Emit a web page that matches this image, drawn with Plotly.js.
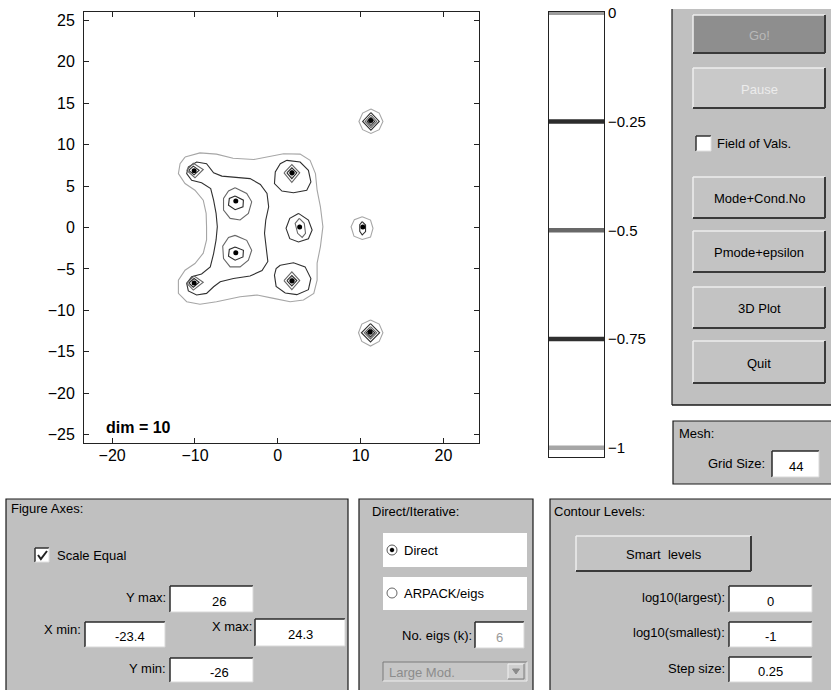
<!DOCTYPE html>
<html><head><meta charset="utf-8">
<script src="https://cdn.plot.ly/plotly-3.0.1.min.js"></script>
<style>html,body{margin:0;padding:0;background:#fff}#chart{width:831px;height:690px}</style>
</head><body><div id="chart"></div>
<script>
// ---------------- DATA ----------------
const eigRe = [-10.1, -10.1, -5.07, -5.07, 1.72, 1.72, 2.64, 10.27, 11.22, 11.15];
const eigIm = [6.85, -6.7, 3.2, -3.05, 6.62, -6.42, 0.05, 0.05, 12.9, -12.62];

const contourLevels = [0, -0.25, -0.5, -0.75, -1];
const levelLabels = ['0', '\u22120.25', '\u22120.5', '\u22120.75', '\u22121'];
const levelColors = ['#9c9c9c', '#2c2c2c', '#686868', '#303030', '#a6a6a6'];

// level -1 contours
const c_m1_blob = [[-11.2,8.5],[-9.4,9.0],[-7.4,8.85],[-5.4,8.35],[-2.9,8.2],[-1.3,8.5],[0.7,8.9],[2.7,8.85],[3.9,8.1],[4.55,6.5],[4.75,4.5],[5.15,2.5],[5.45,0.1],[5.15,-2.3],[4.75,-4.3],[4.75,-6.35],[4.35,-7.95],[3.1,-8.75],[1.5,-8.95],[-0.5,-8.55],[-2.5,-8.15],[-4.55,-8.35],[-7.4,-8.95],[-9.4,-9.25],[-11.0,-8.95],[-12.0,-7.95],[-12.0,-6.35],[-11.2,-5.15],[-10.0,-4.35],[-9.0,-3.1],[-8.6,-1.5],[-8.6,0.1],[-8.65,1.7],[-9.0,3.3],[-10.0,4.5],[-11.2,5.3],[-12.0,6.5],[-11.8,7.7]];
const c_m1_real = [[10.2,1.3],[11.2,0.9],[11.5,-0.1],[11.2,-1.15],[10.2,-1.45],[9.2,-1.05],[8.85,0.1],[9.25,0.95]];
const c_m1_top = [[11.25,14.3],[12.25,13.8],[12.7,12.8],[12.25,11.8],[11.25,11.35],[10.25,11.8],[9.8,12.8],[10.25,13.8]];
const c_m1_bot = [[11.2,-11.15],[12.25,-11.65],[12.7,-12.7],[12.25,-13.75],[11.2,-14.3],[10.15,-13.75],[9.75,-12.7],[10.15,-11.65]];

// level -0.75 contours
const c_m075_blob = [[-10.8,7.3],[-9.8,7.9],[-8.6,7.7],[-7.75,6.6],[-6.75,6.2],[-5.35,6.1],[-3.35,5.9],[-2.1,5.2],[-1.3,4.1],[-1.1,2.5],[-1.45,0.9],[-1.6,-0.7],[-1.45,-2.3],[-1.2,-4.1],[-1.9,-5.2],[-3.35,-5.85],[-5.35,-6.15],[-6.95,-6.55],[-7.75,-7.15],[-8.6,-7.95],[-9.8,-8.15],[-10.8,-7.65],[-11.0,-6.75],[-10.4,-5.95],[-9.2,-5.6],[-8.15,-4.75],[-7.75,-3.15],[-7.45,-1.5],[-7.3,0.1],[-7.45,1.7],[-7.75,3.3],[-8.1,4.7],[-9.2,5.4],[-10.4,5.7],[-11.0,6.5]];
const c_m075_up = [[1.1,8.1],[2.7,7.9],[3.7,6.9],[4.0,5.5],[3.5,4.5],[1.9,4.2],[0.5,4.4],[-0.4,5.3],[-0.3,6.7],[0.3,7.7]];
const c_m075_dn = [[0.3,-4.55],[1.9,-4.25],[3.3,-4.75],[4.0,-6.15],[3.7,-7.5],[2.3,-8.1],[0.9,-7.9],[-0.2,-7.1],[-0.4,-5.75],[-0.2,-4.95]];
const c_m075_mid = [[2.5,1.7],[3.7,0.9],[4.15,-0.3],[3.7,-1.35],[2.5,-1.75],[1.45,-1.35],[1.0,-0.1],[1.45,1.1]];
const c_m075_real = [[10.2,0.7],[10.6,0.3],[10.6,-0.5],[10.2,-0.9],[9.9,-0.45],[9.9,0.35]];
const c_m075_top = [[11.25,13.85],[12.25,12.8],[11.25,11.75],[10.25,12.8]];
const c_m075_bot = [[11.2,-11.6],[12.3,-12.7],[11.2,-13.8],[10.1,-12.7]];

// level -0.5 contours
const c_m05_a = [[-5.15,4.8],[-3.75,4.1],[-3.15,3.1],[-3.55,1.7],[-4.55,0.9],[-5.75,1.1],[-6.55,2.1],[-6.55,3.5],[-5.95,4.4]];
const c_m05_b = [[-5.15,-0.95],[-3.75,-1.55],[-3.15,-2.75],[-3.55,-3.95],[-4.55,-4.75],[-5.75,-4.75],[-6.55,-3.75],[-6.65,-2.25],[-5.95,-1.2]];
const c_m05_mid = [[2.6,1.1],[3.2,0.5],[3.35,-0.7],[2.95,-1.2],[2.4,-0.7],[2.1,0.5]];
const c_m05_lu = [[-11.0,6.9],[-10.2,7.75],[-9.0,7.0],[-10.0,6.0]];
const c_m05_ld = [[-11.0,-6.7],[-10.1,-5.85],[-9.0,-6.6],[-10.2,-7.55]];
const c_m05_ru = [[0.75,6.6],[1.7,7.6],[2.65,6.6],[1.7,5.45]];
const c_m05_rd = [[0.75,-6.4],[1.7,-5.35],[2.65,-6.4],[1.7,-7.5]];
const c_m05_top = [[11.25,13.55],[11.95,12.8],[11.25,12.05],[10.55,12.8]];
const c_m05_bot = [[11.2,-11.95],[11.95,-12.7],[11.2,-13.45],[10.45,-12.7]];

// level -0.25 contours
const c_m025_a = [[-5.15,3.8],[-4.15,3.3],[-4.2,2.5],[-5.15,2.15],[-5.95,2.7],[-5.85,3.5]];
const c_m025_b = [[-5.15,-2.35],[-4.15,-2.75],[-4.2,-3.55],[-5.15,-3.95],[-5.95,-3.45],[-5.85,-2.65]];
const c_m025_lu = [[-10.75,6.9],[-10.2,7.4],[-9.5,6.9],[-10.1,6.35]];
const c_m025_ld = [[-10.75,-6.7],[-10.1,-6.15],[-9.5,-6.6],[-10.2,-7.2]];
const c_m025_ru = [[1.1,6.6],[1.7,7.2],[2.3,6.6],[1.7,5.9]];
const c_m025_rd = [[1.1,-6.4],[1.7,-5.8],[2.3,-6.4],[1.7,-7.05]];
const c_m025_top = [[11.25,13.3],[11.7,12.8],[11.25,12.3],[10.8,12.8]];
const c_m025_bot = [[11.2,-12.2],[11.7,-12.7],[11.2,-13.2],[10.7,-12.7]];

// level 0 contours
const c_0_ru = [[1.35,6.6],[1.7,6.95],[2.05,6.6],[1.7,6.2]];
const c_0_rd = [[1.35,-6.4],[1.7,-6.05],[2.05,-6.4],[1.7,-6.8]];
const c_0_top = [[11.25,13.1],[11.5,12.8],[11.25,12.5],[11.0,12.8]];
const c_0_bot = [[11.2,-12.4],[11.5,-12.7],[11.2,-13.0],[10.9,-12.7]];

const contourSets = [
  {level: -1, paths: [c_m1_blob, c_m1_real, c_m1_top, c_m1_bot]},
  {level: -0.75, paths: [c_m075_blob, c_m075_up, c_m075_dn, c_m075_mid, c_m075_real, c_m075_top, c_m075_bot]},
  {level: -0.5, paths: [c_m05_a, c_m05_b, c_m05_mid, c_m05_lu, c_m05_ld, c_m05_ru, c_m05_rd, c_m05_top, c_m05_bot]},
  {level: -0.25, paths: [c_m025_a, c_m025_b, c_m025_lu, c_m025_ld, c_m025_ru, c_m025_rd, c_m025_top, c_m025_bot]},
  {level: 0, paths: [c_0_ru, c_0_rd, c_0_top, c_0_bot]}
];

// GUI texts / values
const axesValues = {ymax: '26', xmin: '-23.4', xmax: '24.3', ymin: '-26'};
const gridSize = '44';
const numEigs = '6';
const levelInputs = {largest: '0', smallest: '-1', step: '0.25'};

// ---------------- BUILD ----------------
const W = 831, H = 690;
const fx = p => p / W, fy = p => 1 - p / H;
const colorOf = lv => levelColors[contourLevels.indexOf(lv)];
const FONT = 'Liberation Sans, Arial, Helvetica, sans-serif';

const traces = [];
contourSets.forEach(set => {
  set.paths.forEach(p => {
    const xs = p.map(d => d[0]).concat([p[0][0]]);
    const ys = p.map(d => d[1]).concat([p[0][1]]);
    traces.push({type: 'scatter', mode: 'lines', x: xs, y: ys, xaxis: 'x', yaxis: 'y',
      line: {color: colorOf(set.level), width: 1.1}, hoverinfo: 'skip', showlegend: false});
  });
});
traces.push({type: 'scatter', mode: 'markers', x: eigRe, y: eigIm, xaxis: 'x', yaxis: 'y',
  marker: {color: '#000', size: 5}, hoverinfo: 'skip', showlegend: false});

// colorbar bars
contourLevels.forEach((lv, i) => {
  traces.push({type: 'scatter', mode: 'lines', x: [0, 1], y: [lv, lv], xaxis: 'x2', yaxis: 'y2',
    line: {color: levelColors[i], width: 4.5}, hoverinfo: 'skip', showlegend: false, cliponaxis: true});
});

const shapes = [], ann = [];
function rect(x0, y0, x1, y1, fill, line, lw) {
  shapes.push({type: 'rect', xref: 'paper', yref: 'paper', x0: fx(x0), x1: fx(x1), y0: fy(y1), y1: fy(y0),
    fillcolor: fill, line: {color: line || fill, width: lw == null ? 1 : lw}, layer: 'above'});
}
function seg(x0, y0, x1, y1, color, w) {
  shapes.push({type: 'line', xref: 'paper', yref: 'paper', x0: fx(x0), x1: fx(x1), y0: fy(y0), y1: fy(y1),
    line: {color: color, width: w || 1}, layer: 'above'});
}
function path(pts, color, w, fill) {
  const d = pts.map((p, i) => (i ? 'L' : 'M') + fx(p[0]) + ',' + fy(p[1])).join(' ') + (fill ? ' Z' : '');
  shapes.push({type: 'path', xref: 'paper', yref: 'paper', path: d, line: {color: color, width: w || 1},
    fillcolor: fill || 'rgba(0,0,0,0)', layer: 'above'});
}
function circle(cx, cy, r, fill, line) {
  shapes.push({type: 'circle', xref: 'paper', yref: 'paper', x0: fx(cx - r), x1: fx(cx + r), y0: fy(cy + r), y1: fy(cy - r),
    fillcolor: fill, line: {color: line, width: 1}, layer: 'above'});
}
function text(x, y, t, anchor, opts) {
  opts = opts || {};
  ann.push({xref: 'paper', yref: 'paper', x: fx(x), y: fy(y), text: t, showarrow: false,
    xanchor: anchor || 'left', yanchor: 'middle', borderpad: 0,
    font: {family: FONT, size: opts.size || 13, color: opts.color || '#000'}});
}
function panel(x0, y0, x1, y1) {
  rect(x0, y0, x1, y1, '#c0c0c0', '#1a1a1a', 1.2);
}
function button(x0, y0, x1, y1, fill, label, tcolor) {
  rect(x0, y0, x1, y1, fill, fill, 0);
  seg(x0, y0, x1, y0, '#eeeeee', 1.5);
  seg(x0, y0, x0, y1, '#eeeeee', 1.5);
  seg(x0, y1, x1, y1, '#3a3a3a', 2);
  seg(x1, y0, x1, y1, '#3a3a3a', 2);
  text((x0 + x1) / 2, (y0 + y1) / 2 + 1, label, 'center', {color: tcolor || '#000', size: 13});
}
function editbox(x0, y0, x1, y1, val, tx, tcolor) {
  rect(x0, y0, x1, y1, '#ffffff', '#ffffff', 0);
  seg(x0, y0, x1, y0, '#2a2a2a', 1.5);
  seg(x0, y0, x0, y1, '#2a2a2a', 1.5);
  seg(x0, y1, x1, y1, '#d8d8d8', 1);
  seg(x1, y0, x1, y1, '#d8d8d8', 1);
  text(tx == null ? (x0 + x1) / 2 : tx, (y0 + y1) / 2 + 2, val, 'center', {color: tcolor || '#000', size: 13});
}
function checkbox(x0, y0, s, checked) {
  rect(x0, y0, x0 + s, y0 + s, '#ffffff', '#ffffff', 0);
  seg(x0, y0, x0 + s, y0, '#333', 1.5);
  seg(x0, y0, x0, y0 + s, '#333', 1.5);
  seg(x0, y0 + s, x0 + s, y0 + s, '#e0e0e0', 1);
  seg(x0 + s, y0, x0 + s, y0 + s, '#e0e0e0', 1);
  if (checked) path([[x0 + 3, y0 + s * 0.5], [x0 + s * 0.42, y0 + s - 3], [x0 + s - 2, y0 + 3]], '#222', 2);
}

// Right control panel
rect(672, 9, 831, 405, '#c0c0c0', '#c0c0c0', 0);
seg(672, 9, 672, 405, '#1a1a1a', 1.2);
seg(672, 405, 831, 405, '#1a1a1a', 1.5);
button(693, 15, 825, 53, '#8e8e8e', 'Go!', '#b8b8b8');
button(693, 68, 825, 108, '#c9c9c9', 'Pause', '#ececec');
checkbox(696, 136, 15, false);
text(716, 143, 'Field of Vals.', 'left');
button(693, 177, 825, 218, '#c3c3c3', 'Mode+Cond.No');
button(693, 231, 825, 272, '#c3c3c3', 'Pmode+epsilon');
button(693, 287, 825, 328, '#c3c3c3', '3D Plot');
button(693, 341, 825, 383, '#c3c3c3', 'Quit');

// Mesh panel
panel(673, 421, 836, 484);
text(678, 433, 'Mesh:', 'left');
text(766, 463, 'Grid Size:', 'right');
editbox(772, 451, 819, 477, gridSize);

// Figure Axes panel
panel(6, 499, 348, 695);
text(10, 508, 'Figure Axes:', 'left');
checkbox(35, 548, 14, true);
text(56, 555, 'Scale Equal', 'left');
text(167, 597, 'Y max:', 'right');
editbox(170, 586, 253, 612, axesValues.ymax, 219);
text(82, 629, 'X min:', 'right');
editbox(85, 622, 165, 647, axesValues.xmin, 130);
text(253, 626, 'X max:', 'right');
editbox(255, 619, 345, 646, axesValues.xmax);
text(167, 668, 'Y min:', 'right');
editbox(170, 658, 253, 682, axesValues.ymin, 219);

// Direct/Iterative panel
panel(359, 499, 533, 695);
text(371, 511, 'Direct/Iterative:', 'left');
rect(383, 533, 527, 567, '#ffffff', '#ffffff', 0);
circle(392, 550, 5, '#ffffff', '#555');
circle(392, 550, 1.8, '#000', '#000');
text(403, 550, 'Direct', 'left');
rect(383, 577, 527, 610, '#ffffff', '#ffffff', 0);
circle(392, 593, 5, '#ffffff', '#666');
text(403, 593, 'ARPACK/eigs', 'left');
text(473, 635, 'No. eigs (k):', 'right');
editbox(475, 622, 524, 648, numEigs, null, '#9a9a9a');
rect(383, 662, 527, 681, '#c6c6c6', '#c6c6c6', 0);
seg(383, 662, 527, 662, '#7a7a7a', 1);
seg(383, 662, 383, 681, '#7a7a7a', 1);
seg(383, 681, 527, 681, '#eeeeee', 1);
seg(527, 662, 527, 681, '#eeeeee', 1);
text(388, 672, 'Large Mod.', 'left', {color: '#8c8c8c'});
rect(508, 664, 524, 679, '#cfcfcf', '#cfcfcf', 0);
seg(508, 664, 524, 664, '#f2f2f2', 1);
seg(508, 664, 508, 679, '#f2f2f2', 1);
seg(508, 679, 524, 679, '#7a7a7a', 1);
seg(524, 664, 524, 679, '#7a7a7a', 1);
path([[512.5, 669], [519.5, 669], [516, 674]], '#8a8a8a', 1, '#8a8a8a');

// Contour Levels panel
panel(550, 499, 836, 695);
text(553, 511, 'Contour Levels:', 'left');
button(576, 536, 751, 571, '#c3c3c3', 'Smart  levels');
text(726, 597, 'log10(largest):', 'right');
editbox(729, 586, 812, 612, levelInputs.largest);
text(726, 632, 'log10(smallest):', 'right');
editbox(729, 622, 812, 647, levelInputs.smallest);
text(726, 668, 'Step size:', 'right');
editbox(729, 657, 812, 682, levelInputs.step);

// dim label
ann.push({xref: 'paper', yref: 'paper', x: fx(104), y: fy(427), text: '<b>dim = 10</b>', showarrow: false,
  xanchor: 'left', yanchor: 'middle', font: {family: FONT, size: 16, color: '#000'}});

const axisFont = {family: FONT, size: 16, color: '#000'};
const layout = {
  width: W, height: H, margin: {l: 0, r: 0, t: 0, b: 0, pad: 0},
  paper_bgcolor: '#ffffff', plot_bgcolor: '#ffffff', showlegend: false,
  xaxis: {domain: [fx(84), fx(479)], range: [-23.4, 24.3], tickvals: [-20, -10, 0, 10, 20],
    ticks: 'inside', ticklen: 5, tickcolor: '#222', showline: true, linecolor: '#222', linewidth: 1,
    mirror: 'ticks', showgrid: false, zeroline: false, tickfont: axisFont, anchor: 'y', fixedrange: true,
    ticklabelstandoff: -2},
  yaxis: {domain: [fy(443), fy(12)], range: [-26, 26], tickvals: [-25, -20, -15, -10, -5, 0, 5, 10, 15, 20, 25],
    ticks: 'inside', ticklen: 5, tickcolor: '#222', showline: true, linecolor: '#222', linewidth: 1,
    mirror: 'ticks', showgrid: false, zeroline: false, tickfont: axisFont, anchor: 'x', fixedrange: true,
    ticklabelstandoff: 5},
  xaxis2: {domain: [fx(549), fx(604)], range: [0, 1], showticklabels: false, ticks: '',
    showline: true, linecolor: '#222', linewidth: 1, mirror: true, showgrid: false, zeroline: false, anchor: 'y2', fixedrange: true},
  yaxis2: {domain: [fy(457), fy(12)], range: [-1.021, 0.002], side: 'right', anchor: 'x2',
    tickvals: contourLevels, ticktext: levelLabels, ticks: '', showline: true, linecolor: '#222', linewidth: 1,
    mirror: true, showgrid: false, zeroline: false, tickfont: {family: FONT, size: 15, color: '#000'}, fixedrange: true},
  shapes: shapes, annotations: ann
};
Plotly.newPlot('chart', traces, layout, {displayModeBar: false, staticPlot: true});
</script></body></html>
